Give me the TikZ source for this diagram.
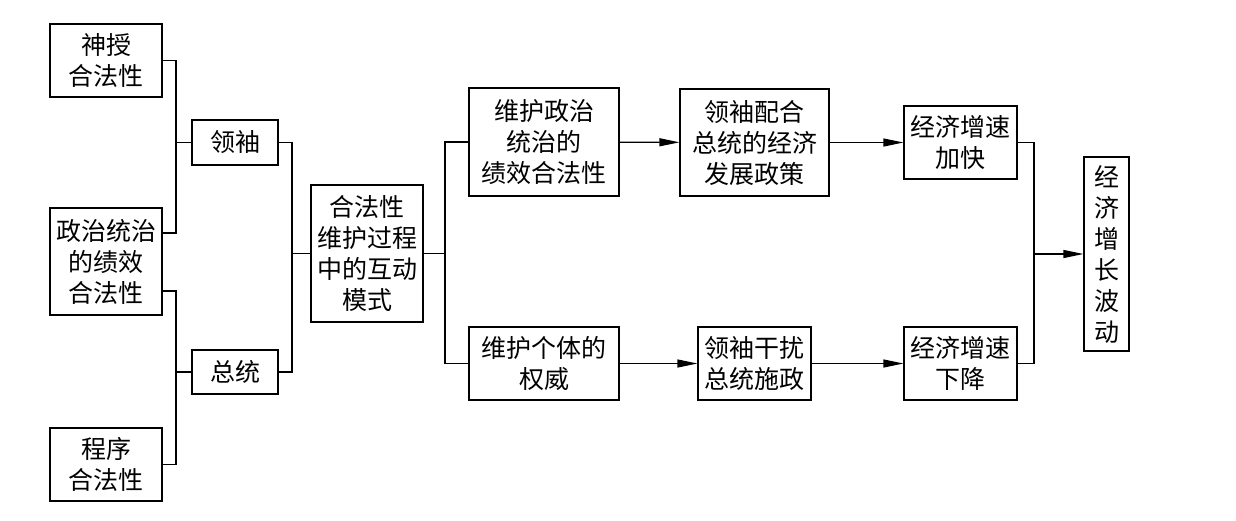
\documentclass[tikz,border=0pt]{standalone}
\usepackage{fontspec}
\newfontfamily\cjk{Noto Sans CJK SC}
\usepackage{tikz}
\usetikzlibrary{arrows.meta,calc}
\tikzset{
  box/.style={draw, line width=0.6pt, align=center, inner sep=1pt,
              font=\cjk\fontsize{12.5}{15.5}\selectfont},
  link/.style={line width=0.6pt},
  flow/.style={link, -{Triangle[length=10pt,width=4pt]}},
}
\begin{document}
\begin{tikzpicture}[x=0.5pt,y=-0.5pt]
\useasboundingbox (0,0) rectangle (1236,520);
% sources of legitimacy
\node[box, minimum width=56pt, minimum height=36.5pt] (shen) at (106,60.5) {神授\\合法性};
\node[box, minimum width=56pt, minimum height=53.5pt] (zhengzhi) at (106,261.5) {政治统治\\的绩效\\合法性};
\node[box, minimum width=56pt, minimum height=36.5pt] (chengxu) at (106,464.5) {程序\\合法性};
% actors
\node[box, minimum width=43pt, minimum height=22.5pt] (lingxiu) at (235,142.5) {领袖};
\node[box, minimum width=43pt, minimum height=22pt] (zongtong) at (235,372) {总统};
\node[box, minimum width=56pt, minimum height=68.5pt] (hefa) at (367,253.5) {合法性\\维护过程\\中的互动\\模式};
% two paths
\node[box, minimum width=75pt, minimum height=54pt] (weihu1) at (544,142) {维护政治\\统治的\\绩效合法性};
\node[box, minimum width=75pt, minimum height=36.5pt] (weihu2) at (544,363.5) {维护个体的\\权威};
\node[box, minimum width=74.5pt, minimum height=53.5pt] (peihe) at (754.5,142.5) {领袖配合\\总统的经济\\发展政策};
\node[box, minimum width=56.5pt, minimum height=36.5pt] (ganrao) at (754.5,363.5) {领袖干扰\\总统施政};
\node[box, minimum width=56.5pt, minimum height=36.5pt] (jiakuai) at (960.5,142.5) {经济增速\\加快};
\node[box, minimum width=56.5pt, minimum height=36.5pt] (xiajiang) at (960.5,363.5) {经济增速\\下降};
\node[box, minimum width=22.5pt, minimum height=97pt] (bodong) at (1106.5,254) {经\\济\\增\\长\\波\\动};
% junctions
\coordinate (j1) at (176,142.5);
\coordinate (j2) at (176,372);
\coordinate (j3) at (292,253.5);
\coordinate (j4) at (445,253.5);
\coordinate (j5) at (1034,254);
\draw[link] (shen.east) -| (j1) |- ($(zhengzhi.east)+(0,-28.5)$);
\draw[link] (j1) -- (lingxiu.west);
\draw[link] ($(zhengzhi.east)+(0,29.5)$) -| (j2) |- (chengxu.east);
\draw[link] (j2) -- (zongtong.west);
\draw[link] (lingxiu.east) -| (j3) |- (zongtong.east);
\draw[link] (j3) -- (hefa.west);
\draw[link] (hefa.east) -- (j4);
\draw[link] (weihu1.west) -| (j4) |- (weihu2.west);
\draw[flow] (weihu1) -- (peihe);
\draw[flow] (weihu2) -- (ganrao);
\draw[flow] (peihe) -- (jiakuai);
\draw[flow] (ganrao) -- (xiajiang);
\draw[link] (jiakuai.east) -| (j5) |- (xiajiang.east);
\draw[flow] (j5) -- (bodong.west);
\end{tikzpicture}
\end{document}
